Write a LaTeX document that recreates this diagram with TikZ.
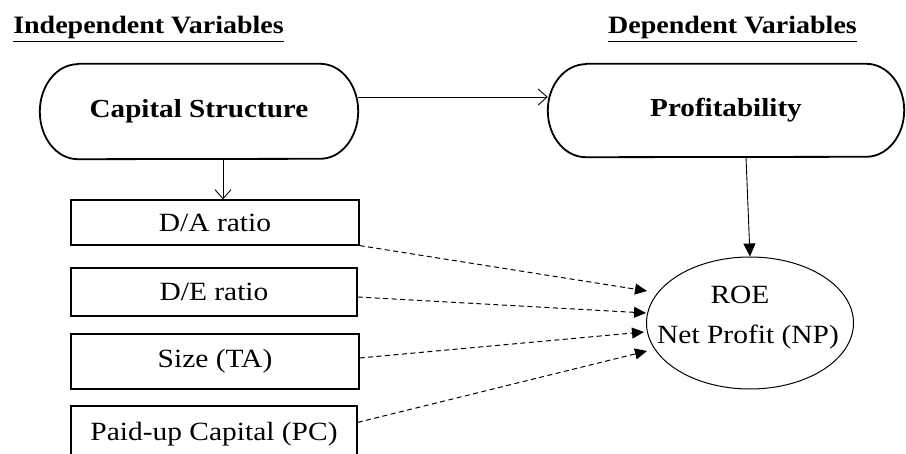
\documentclass[tikz,border=0pt]{standalone}
\usepackage{fontspec}
\setmainfont{Liberation Serif}[FakeStretch=1.12]
\usetikzlibrary{arrows.meta,shapes.geometric}
\tikzset{
  titletext/.style={anchor=base,font=\fontsize{25}{30}\selectfont\bfseries},
  stadium/.style={inner sep=0pt,font=\fontsize{26}{31}\selectfont\bfseries},
  stadiumline/.style={line width=1.8pt},
  varbox/.style={draw,line width=1.2pt,inner sep=0pt,font=\fontsize{26.3}{31}\selectfont},
  openarrow/.style={line width=0.9pt,-{Straight Barb[length=9pt,width=16pt,line width=0.9pt]}},
  filledarrow/.style={line width=0.9pt,-{Triangle[length=13pt,width=12pt]}},
  dasharrow/.style={line width=1pt,dash pattern=on 5pt off 3.5pt,-{Triangle[length=12pt,width=11pt]}}
}
\begin{document}
\begin{tikzpicture}[x=1pt,y=-1pt]
\useasboundingbox (0,0) rectangle (906,454);
\clip (0,0) rectangle (906,454);
\fill[white] (0,0) rectangle (906,454);
% titles
\node[titletext] (t1) at (148.5,34) {\underline{Independent Variables}};
\node[titletext] (t2) at (732.5,34) {\underline{Dependent Variables}};
% stadiums
\node[stadium,minimum width=318pt,minimum height=95pt] (cs) at (199,111.5) {Capital Structure};
\draw[stadiumline] ([xshift=38pt]cs.north west) -- ([xshift=-38pt]cs.north east)
  arc[start angle=90,end angle=-90,x radius=38pt,y radius=47.5pt]
  -- ([xshift=38pt]cs.south west)
  arc[start angle=270,end angle=90,x radius=38pt,y radius=47.5pt] -- cycle;
\node[stadium,minimum width=356pt,minimum height=93pt] (pr) at (726,110.5) {Profitability};
\draw[stadiumline] ([xshift=38pt]pr.north west) -- ([xshift=-38pt]pr.north east)
  arc[start angle=90,end angle=-90,x radius=38pt,y radius=46.5pt]
  -- ([xshift=38pt]pr.south west)
  arc[start angle=270,end angle=90,x radius=38pt,y radius=46.5pt] -- cycle;
% boxes
\node[varbox,minimum width=288pt,minimum height=45pt] (da) at (215,222.5) {D/A ratio};
\node[varbox,minimum width=286pt,minimum height=48pt] (de) at (214,292) {D/E ratio};
\node[varbox,minimum width=288pt,minimum height=55pt] (sz) at (215,361.5) {Size (TA)};
\node[varbox,minimum width=286pt,minimum height=56pt] (pc) at (214,434) {Paid-up Capital (PC)};
% ellipse
\node[draw,ellipse,line width=1pt,minimum width=207pt,minimum height=132pt,inner sep=0pt] (roe) at (750,323) {};
\node[font=\fontsize{26.3}{31}\selectfont,inner sep=0pt] (roet) at (740,295) {ROE};
\node[font=\fontsize{26.3}{31}\selectfont,inner sep=0pt] (npt) at (748,337) {Net Profit (NP)};
% connectors
\draw[openarrow] ([yshift=14.5pt]cs.east) -- ([yshift=14.5pt]cs.east -| pr.west);
\coordinate (ah) at ([xshift=8pt]da.north);
\draw[openarrow] (cs.south -| ah) -- (ah);
\draw[filledarrow] ([xshift=20pt]pr.south) -- (roe.north);
\coordinate (e1) at (647,291);
\coordinate (e2) at (646,313);
\coordinate (e3) at (644,332);
\coordinate (e4) at (647,351);
\draw[dasharrow] (da.south east) -- (e1);
\draw[dasharrow] ([yshift=-5pt]de.east) -- (e2);
\draw[dasharrow] ([yshift=3.5pt]sz.east) -- (e3);
\draw[dasharrow] ([yshift=-17pt]pc.north east) -- (e4);
\end{tikzpicture}
\end{document}
